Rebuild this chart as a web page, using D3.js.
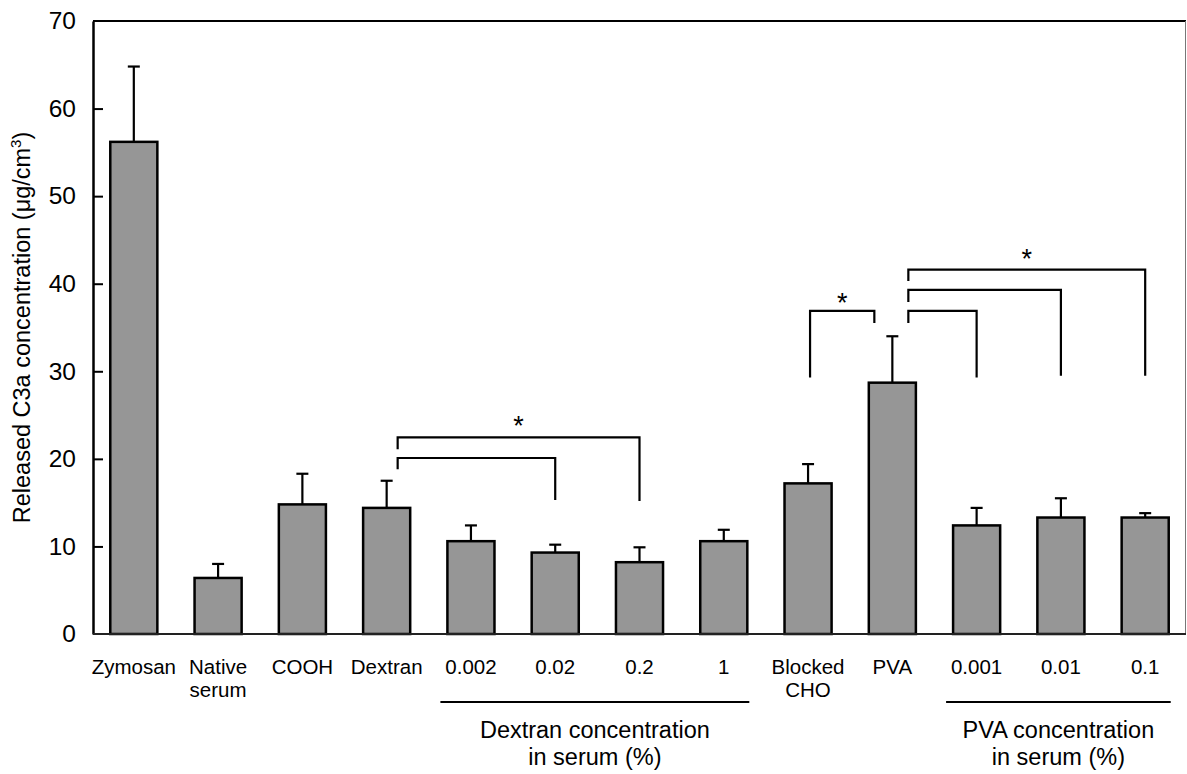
<!DOCTYPE html>
<html>
<head>
<meta charset="utf-8">
<script src="https://cdn.jsdelivr.net/npm/d3@7"></script>
<style>
  html, body { margin: 0; padding: 0; background: #fff; }
  svg { display: block; font-family: "Liberation Sans", Arial, sans-serif; }
</style>
</head>
<body>
<svg id="chart" width="1187" height="774"></svg>
<script>
// Released C3a per sample (mean and upper error bar end, µg/cm3)
const categories = ["Zymosan", "Native serum", "COOH", "Dextran", "0.002", "0.02", "0.2", "1",
                    "Blocked CHO", "PVA", "0.001", "0.01", "0.1"];
const means      = [56.2, 6.4, 14.8, 14.4, 10.6, 9.3, 8.2, 10.6, 17.2, 28.7, 12.4, 13.3, 13.3];
const errorTops  = [64.8, 8.0, 18.3, 17.5, 12.4, 10.2, 9.9, 11.9, 19.4, 34.0, 14.4, 15.5, 13.8];
const yTicks     = [0, 10, 20, 30, 40, 50, 60, 70];

// Significance brackets: [from, to, bar level, left end, right end] in µg/cm3
const brackets = [
  ["Dextran", "0.2", 22.45, 21.1, 15.2],
  ["Dextran", "0.02", 20.1, 18.8, 15.3],
  ["Blocked CHO", "PVA", 36.9, 29.3, 35.5],
  ["PVA", "0.001", 36.9, 35.5, 29.3],
  ["PVA", "0.01", 39.3, 37.9, 29.5],
  ["PVA", "0.1", 41.6, 40.3, 29.5]
];
// Asterisks: [between, and, level]
const stars = [
  ["Dextran", "0.2", 24.2],
  ["Blocked CHO", "PVA", 38.3],
  ["PVA", "0.1", 43.3]
];
// Group captions beneath the category labels
const groups = [
  { from: "0.002", to: "1", lines: ["Dextran concentration", "in serum (%)"] },
  { from: "0.001", to: "0.1", lines: ["PVA concentration", "in serum (%)"] }
];

const svg = d3.select("#chart");
const plotLeft = 93, plotRight = 1186, plotTop = 21, plotBottom = 634;

const x = d3.scaleBand().domain(categories).range([plotLeft, plotRight])
  .paddingInner(0.4415).paddingOuter(0.205);
const y = d3.scaleLinear().domain([0, 70]).range([plotBottom, plotTop]);
const cx = c => x(c) + x.bandwidth() / 2;

// Frame: top and right edges
svg.append("line").attr("x1", plotLeft).attr("x2", plotRight).attr("y1", plotTop).attr("y2", plotTop)
  .attr("stroke", "#000").attr("stroke-width", 2);
svg.append("line").attr("x1", plotRight - 0.5).attr("x2", plotRight - 0.5).attr("y1", plotTop).attr("y2", plotBottom)
  .attr("stroke", "#777").attr("stroke-width", 1);

// Bars
svg.append("g").selectAll("rect").data(categories).join("rect")
  .attr("x", d => x(d))
  .attr("y", (d, i) => y(means[i]))
  .attr("width", x.bandwidth())
  .attr("height", (d, i) => y(0) - y(means[i]))
  .attr("fill", "#969696")
  .attr("stroke", "#000")
  .attr("stroke-width", 2.5);

// Upper error bars
const eb = svg.append("g").attr("stroke", "#000").attr("stroke-width", 2.2);
categories.forEach((c, i) => {
  eb.append("line").attr("x1", cx(c)).attr("x2", cx(c))
    .attr("y1", y(means[i])).attr("y2", y(errorTops[i]));
  eb.append("line").attr("x1", cx(c) - 6).attr("x2", cx(c) + 6)
    .attr("y1", y(errorTops[i])).attr("y2", y(errorTops[i]));
});

// Y axis with inward ticks
const yAxis = svg.append("g").attr("transform", `translate(${plotLeft},0)`)
  .call(d3.axisLeft(y).tickValues(yTicks).tickSize(0).tickPadding(17));
yAxis.select(".domain").attr("stroke", "#000").attr("stroke-width", 2.5);
yAxis.selectAll(".tick text").attr("font-size", 24.5).attr("fill", "#000")
  .attr("font-family", "Liberation Sans, Arial, sans-serif");
yAxis.selectAll(".tick").filter(d => d > 0 && d < 70).append("line")
  .attr("x1", 0).attr("x2", 10).attr("stroke", "#000").attr("stroke-width", 2);

// Baseline
svg.append("line").attr("x1", plotLeft).attr("x2", plotRight).attr("y1", plotBottom).attr("y2", plotBottom)
  .attr("stroke", "#222").attr("stroke-width", 2);

// Category labels
const xl = svg.append("g").attr("font-size", 20.5).attr("text-anchor", "middle").attr("fill", "#000");
categories.forEach(c => {
  const words = c === "Native serum" ? ["Native", "serum"]
              : c === "Blocked CHO" ? ["Blocked", "CHO"] : [c];
  words.forEach((w, k) => {
    xl.append("text").attr("x", cx(c)).attr("y", 674 + k * 23).text(w);
  });
});

// Group underlines and captions
groups.forEach(g => {
  const x1 = x(g.from) - 7, x2 = x(g.to) + x.bandwidth() + 2;
  svg.append("line").attr("x1", x1).attr("x2", x2).attr("y1", 702).attr("y2", 702)
    .attr("stroke", "#000").attr("stroke-width", 2);
  g.lines.forEach((t, k) => {
    svg.append("text").attr("x", (x1 + x2) / 2).attr("y", 738 + k * 27)
      .attr("text-anchor", "middle").attr("font-size", 23.5).text(t);
  });
});

// Significance brackets
const offsets = { "Dextran": 11, "Blocked CHO": 2, "PVA": 16 };
const bg = svg.append("g").attr("fill", "none").attr("stroke", "#000").attr("stroke-width", 2.2);
brackets.forEach(([a, b, lvl, la, rb]) => {
  const xa = cx(a) + (offsets[a] || 0);
  const xb = cx(b) + (b === "PVA" ? -18 : 0);
  bg.append("path").attr("d",
    `M${xa},${y(la)}V${y(lvl)}H${xb}V${y(rb)}`);
});
stars.forEach(([a, b, lvl]) => {
  const xa = cx(a) + (offsets[a] || 0);
  const xb = cx(b) + (b === "PVA" ? -18 : 0);
  svg.append("text").attr("x", (xa + xb) / 2).attr("y", y(lvl) + 13)
    .attr("text-anchor", "middle").attr("font-size", 27).text("*");
});

// Y axis title
const yt = svg.append("text")
  .attr("transform", `translate(30,${(plotTop + plotBottom) / 2}) rotate(-90)`)
  .attr("text-anchor", "middle").attr("font-size", 23.5);
yt.append("tspan").text("Released C3a concentration (\u03bcg/cm");
yt.append("tspan").attr("font-size", 15).attr("dy", -9).text("3");
yt.append("tspan").attr("dy", 9).text(")");
</script>
</body>
</html>
